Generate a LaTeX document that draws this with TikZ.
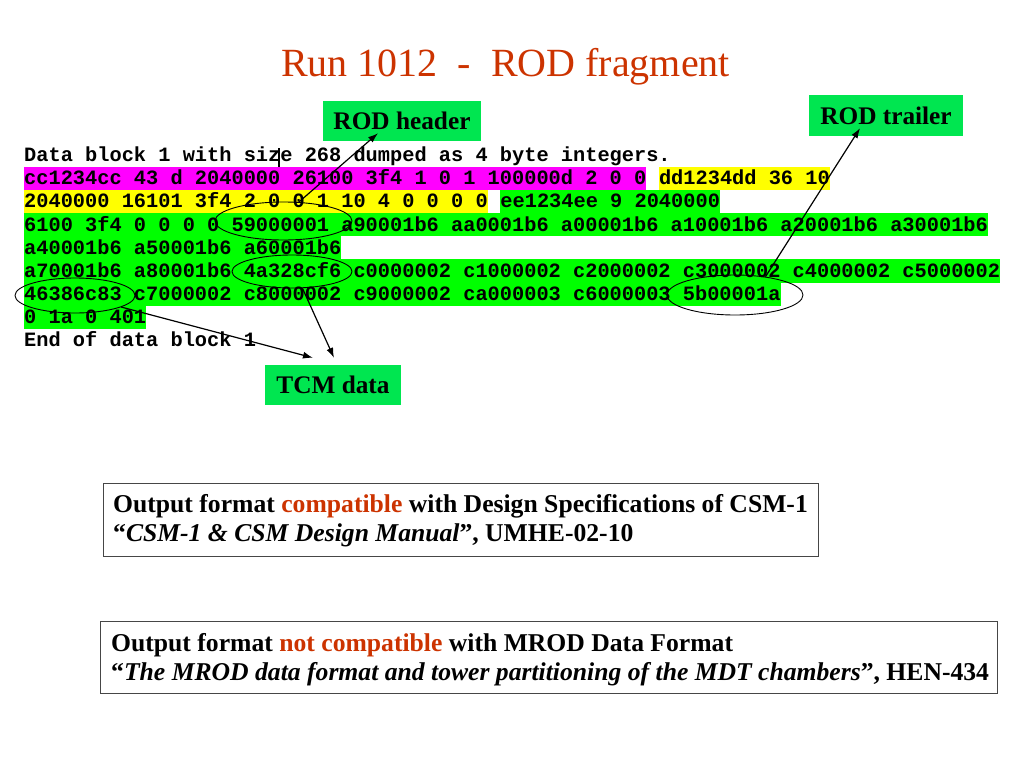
\documentclass[tikz,border=0pt]{standalone}
\usepackage{fontspec}
\setmainfont{Liberation Serif}
\newfontfamily\codefam{Liberation Mono}
\usetikzlibrary{positioning,shapes.geometric,calc,arrows.meta}
\definecolor{titlered}{RGB}{204,51,0}
\definecolor{taggreen}{RGB}{0,230,80}
\definecolor{hlgreen}{RGB}{0,255,0}
\definecolor{hlyellow}{RGB}{255,255,0}
\definecolor{hlmagenta}{RGB}{255,0,255}
\definecolor{framegray}{RGB}{70,70,70}

\begin{document}
\begin{tikzpicture}[x=1pt, y=-1pt,
  code/.style={font=\codefam\bfseries\fontsize{20.33pt}{23.15pt}\selectfont, inner sep=0pt, text height=17.9pt, text depth=5.25pt, anchor=base west},
  mag/.style={code, fill=hlmagenta},
  yel/.style={code, fill=hlyellow},
  grn/.style={code, fill=hlgreen},
  tag/.style={fill=taggreen, inner sep=0pt, font=\bfseries\fontsize{25.3pt}{30pt}\selectfont},
  ring/.style={draw, ellipse, inner sep=0pt, line width=0.9pt},
  frame/.style={draw=framegray, line width=1pt},
  note/.style={inner sep=0pt, anchor=base west, font=\bfseries\fontsize{25.65pt}{29pt}\selectfont},
  >={Latex[length=10pt,width=7pt]}]
  \def\lx{24} % left edge of the dump
  \def\ly{161.6} % first baseline
  \def\dy{23.15} % line spacing
  \def\cw{12.2pt} % one character

  \useasboundingbox (0,0) rectangle (1024,768);

  % TITLE
  \node [font=\fontsize{40pt}{48pt}\selectfont, text=titlered, anchor=base] (title) at (505.5,77) {Run 1012\ \ -\ \ ROD fragment};

  % DUMP
  \node [code] (l1) at (\lx,\ly) {Data block 1 with size 268 dumped as 4 byte integers.};
  \node [mag] (l2a) at (\lx,\ly+\dy) {cc1234cc 43 d 2040000 26100 3f4 1 0 1 100000d 2 0 0};
  \node [yel, right=\cw of l2a] (l2b) {dd1234dd 36 10};
  \node [yel] (l3a) at (\lx,\ly+2*\dy) {2040000 16101 3f4 2 0 0 1 10 4 0 0 0 0};
  \node [grn, right=\cw of l3a] (l3b) {ee1234ee 9 2040000};
  \node [grn] (l4) at (\lx,\ly+3*\dy) {6100 3f4 0 0 0 0 59000001 a90001b6 aa0001b6 a00001b6 a10001b6 a20001b6 a30001b6};
  \node [grn] (l5) at (\lx,\ly+4*\dy) {a40001b6 a50001b6 a60001b6};
  \node [grn] (l6) at (\lx,\ly+5*\dy) {a70001b6 a80001b6 4a328cf6 c0000002 c1000002 c2000002 c3000002 c4000002 c5000002};
  \node [grn] (l7) at (\lx,\ly+6*\dy) {46386c83 c7000002 c8000002 c9000002 ca000003 c6000003 5b00001a};
  \node [grn] (l8) at (\lx,\ly+7*\dy) {0 1a 0 401};
  \node [code] (l9) at (\lx,\ly+8*\dy) {End of data block 1};
  \draw [line width=1.2pt] (279,148) -- (279,167);

  % RINGS
  \node [ring, minimum width=137pt, minimum height=38pt] (e1) at (283.5,221) {};
  \node [ring, minimum width=120pt, minimum height=33pt] (e2) at (292,271.5) {};
  \node [ring, minimum width=120pt, minimum height=35pt] (e3) at (75,295.5) {};
  \node [ring, minimum width=136pt, minimum height=40pt] (e4) at (735,295) {};

  % TAGS
  \node [tag, minimum width=158pt, minimum height=40pt] (hdr) at (402,121) {ROD header};
  \node [tag, minimum width=154pt, minimum height=41pt] (trl) at (886,115.5) {ROD trailer};
  \node [tag, minimum width=136pt, minimum height=40pt] (tcm) at (333,385) {TCM data};

  \draw [->, line width=1.2pt] (e1.51) -- ($(hdr.south)+(-24,-8)$);
  \draw [->, line width=1.2pt] (e4.31) -- ($(trl.south)+(-26,-8)$);
  \draw [->, line width=1.2pt] (e3.-14) -- ($(tcm.north)+(-20,-7)$);
  \draw [->, line width=1.2pt] (e2.-58) -- ($(tcm.north)+(1,-7)$);

  % NOTES
  \draw [frame] (103,483) rectangle (818,556);
  \node [note] (spec1) at (113,512) {Output format \textcolor{titlered}{compatible} with Design Specifications of CSM-1};
  \node [note] (spec2) at (113,541) {“\textit{CSM-1 \& CSM Design Manual}”, UMHE-02-10};
  \draw [frame] (100,621.5) rectangle (997,693);
  \node [note] (mrod1) at (111,651) {Output format \textcolor{titlered}{not compatible} with MROD Data Format};
  \node [note] (mrod2) at (111,680) {“\textit{The MROD data format and tower partitioning of the MDT chambers}”, HEN-434};

\end{tikzpicture}
\end{document}
